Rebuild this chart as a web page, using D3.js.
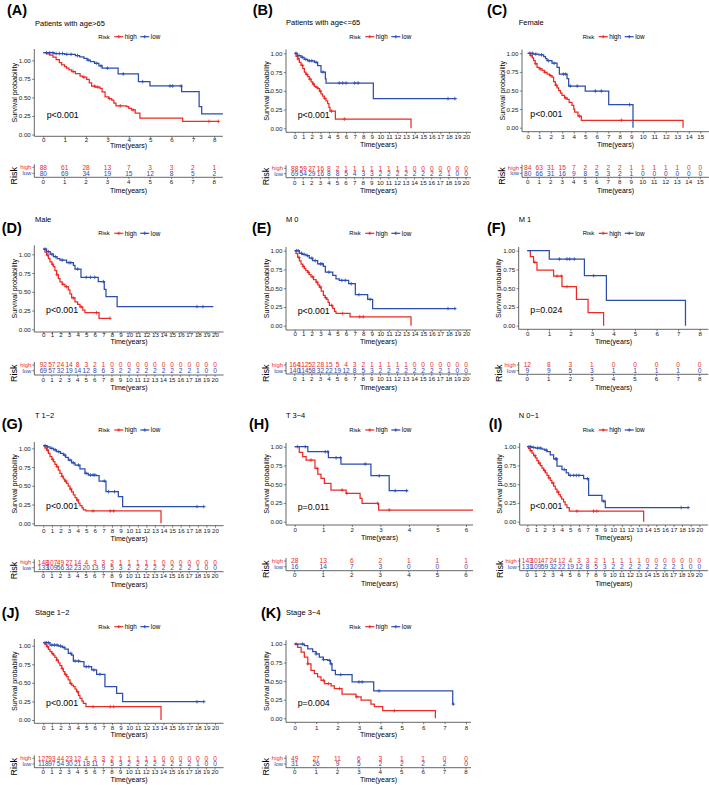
<!DOCTYPE html>
<html><head><meta charset="utf-8">
<script src="https://cdn.jsdelivr.net/npm/d3@7"></script>
<style>body{margin:0;background:#fff}svg{display:block}</style>
</head><body>
<svg id="chart" width="709" height="785"></svg>
<script>
// ---------------- DATA ----------------
const panelIds = ["A","B","C","D","E","F","G","H","I","J","K"];
const panelTitles = ["Patients with age>65","Patients with age<=65","Female","Male","M 0","M 1","T 1\u22122","T 3\u22124","N 0\u22121","Stage 1\u22122","Stage 3\u22124"];
const pValues = ["p<0.001","p<0.001","p<0.001","p<0.001","p<0.001","p=0.024","p<0.001","p=0.011","p<0.001","p<0.001","p=0.004"];
const maxTimes = [8,20,15,20,20,8,20,6,20,20,8];
const strata = ["high","low"];
const legendTitle = "Risk";
const yTickValues = [0,0.25,0.5,0.75,1];
const yTickLabels = ["0.00","0.25","0.50","0.75","1.00"];
const xTitle = "Time(years)";
const yTitle = "Survival probability";

// Kaplan-Meier steps: [time, survival from that time]
const highA = [[0,1],[0.15,0.985],[0.3,0.97],[0.45,0.945],[0.6,0.915],[0.75,0.88],[0.86,0.85],[1.0,0.83],[1.09,0.81],[1.2,0.79],[1.33,0.77],[1.5,0.745],[1.72,0.715],[1.85,0.7],[2.03,0.675],[2.15,0.63],[2.26,0.59],[2.45,0.58],[2.65,0.565],[2.75,0.52],[2.89,0.46],[3.05,0.44],[3.2,0.42],[3.3,0.385],[3.4,0.35],[3.9,0.34],[4.0,0.32],[4.13,0.30],[4.3,0.26],[4.52,0.20],[6.52,0.16],[8.19,0.16]];
const lowA = [[0,1],[0.5,0.99],[1.0,0.98],[1.5,0.965],[1.7,0.95],[1.9,0.93],[2.05,0.91],[2.2,0.89],[2.4,0.87],[2.6,0.84],[2.75,0.81],[3.5,0.74],[4.45,0.646],[4.99,0.593],[6.47,0.524],[7.29,0.341],[7.41,0.252],[8.45,0.252]];
const censHighA = [1.4,1.9,2.4,2.55,3.1,3.6,4.2,7.75,8.19];
const censLowA = [0.15,0.3,0.45,0.6,0.75,0.9,1.1,1.3,1.6,2.1,2.5,2.7,3.0,3.74,4.65,5.93,6.05,6.45];
const riskHighA = [88,61,28,13,7,3,3,2,1];
const riskLowA = [80,69,34,19,15,12,8,5,2];

const highB = [[0,1],[0.15,0.96],[0.35,0.925],[0.55,0.88],[0.74,0.84],[0.95,0.795],[1.13,0.75],[1.3,0.72],[1.52,0.69],[1.7,0.655],[1.91,0.62],[2.1,0.59],[2.3,0.56],[2.5,0.545],[2.68,0.53],[2.9,0.495],[3.07,0.46],[3.25,0.43],[3.46,0.40],[3.65,0.365],[3.85,0.33],[4.0,0.28],[4.12,0.23],[4.75,0.123],[13.58,0]];
const lowB = [[0,1],[0.3,0.97],[0.74,0.947],[1.1,0.92],[1.52,0.90],[2.3,0.88],[2.68,0.837],[3.07,0.75],[3.58,0.66],[3.66,0.604],[9.18,0.396],[18.9,0.396]];
const censHighB = [0.4,0.9,1.4,1.8,2.2,2.6,3.0,3.5,4.3,5.8];
const censLowB = [0.15,0.5,0.9,1.3,1.7,2.0,2.5,3.3,5.2,5.6,6.0,7.0,7.4,17.9,18.7];
const riskHighB = [88,59,27,16,8,2,1,1,1,1,1,1,1,1,0,0,0,0,0,0,0];
const riskLowB = [69,54,29,16,8,8,5,4,3,3,2,2,2,2,2,2,2,2,1,0,0];

const highC = [[0,1],[0.23,0.97],[0.4,0.94],[0.52,0.90],[0.65,0.86],[0.81,0.81],[1.0,0.79],[1.25,0.77],[1.45,0.745],[1.68,0.72],[1.9,0.70],[2.11,0.68],[2.25,0.62],[2.4,0.57],[2.55,0.535],[2.69,0.50],[2.85,0.465],[2.98,0.435],[3.2,0.40],[3.42,0.38],[3.6,0.34],[3.85,0.30],[4.0,0.25],[4.08,0.21],[4.37,0.155],[4.66,0.10],[13.5,0]];
const lowC = [[0,1],[0.5,0.99],[0.96,0.98],[1.39,0.956],[1.55,0.93],[1.68,0.90],[2.11,0.867],[2.55,0.81],[2.75,0.72],[3.42,0.66],[3.56,0.56],[5.0,0.493],[7.04,0.31],[9.15,0]];
const censHighC = [0.3,0.7,1.1,1.5,2.0,2.5,3.3,4.5,8.14];
const censLowC = [0.2,0.4,0.7,1.2,1.8,2.3,3.1,3.3,3.7,4.3,5.88,6.4,8.86];
const riskHighC = [84,63,31,15,7,2,2,2,2,1,1,1,1,1,0,0];
const riskLowC = [80,66,31,16,9,8,5,3,2,1,0,0,0,0,0,0];

const highD = [[0,1],[0.2,0.96],[0.39,0.925],[0.6,0.88],[0.78,0.84],[1.0,0.81],[1.17,0.78],[1.35,0.73],[1.55,0.68],[1.75,0.63],[1.94,0.59],[2.2,0.56],[2.52,0.53],[2.91,0.49],[3.1,0.44],[3.3,0.39],[3.69,0.34],[4.0,0.31],[4.27,0.28],[4.6,0.24],[4.85,0.207],[6.49,0.137],[7.77,0.137]];
const lowD = [[0,1],[0.39,0.967],[0.8,0.935],[1.17,0.905],[1.6,0.88],[1.94,0.863],[2.72,0.83],[3.5,0.797],[3.69,0.75],[4.39,0.647],[6.4,0.593],[7.1,0.498],[7.3,0.407],[8.6,0.282],[19.8,0.282]];
const censHighD = [0.5,1.1,1.6,2.3,2.7,3.5,4.4,6.2,7.77];
const censLowD = [0.2,0.6,1.0,1.4,2.2,3.0,3.2,4.0,5.0,5.5,6.0,7.0,17.9,18.6];
const riskHighD = [92,57,24,14,8,3,2,1,0,0,0,0,0,0,0,0,0,0,0,0,0];
const riskLowD = [69,57,32,19,14,12,8,6,3,2,2,2,2,2,2,2,2,2,1,0,0];

const highE = [[0,1],[0.15,0.96],[0.35,0.91],[0.55,0.865],[0.74,0.82],[0.95,0.79],[1.13,0.76],[1.3,0.735],[1.52,0.71],[1.7,0.68],[1.91,0.65],[2.2,0.615],[2.49,0.58],[2.7,0.545],[2.88,0.515],[3.1,0.46],[3.35,0.405],[3.55,0.375],[3.74,0.35],[3.9,0.31],[4.05,0.27],[4.44,0.23],[4.65,0.19],[4.82,0.163],[6.46,0.119],[13.58,0]];
const lowE = [[0,1],[0.54,0.965],[0.9,0.95],[1.32,0.934],[1.7,0.9],[2.1,0.868],[2.68,0.824],[3.35,0.79],[3.58,0.714],[4.44,0.67],[4.82,0.626],[5.2,0.604],[6.3,0.56],[7.08,0.414],[8.52,0.352],[9.1,0.229],[18.8,0.229]];
const censHighE = [0.5,1.0,1.6,2.1,2.6,3.0,3.6,4.3,5.6,7.6,8.0];
const censLowE = [0.2,0.4,0.8,1.1,1.5,2.0,2.4,3.0,3.2,4.0,5.5,5.9,6.6,7.5,8.8,17.9,18.7];
const riskHighE = [164,112,52,28,15,5,4,3,2,1,1,1,1,1,0,0,0,0,0,0,0];
const riskLowE = [140,114,58,32,22,19,12,8,5,3,2,2,2,2,2,2,2,2,1,0,0];

const highF = [[0,1],[0.14,0.92],[0.29,0.845],[0.45,0.742],[1.22,0.662],[1.61,0.52],[2.28,0.351],[2.82,0.173],[3.54,0]];
const lowF = [[0,1],[1.02,0.889],[2.65,0.667],[3.67,0.338],[7.34,0]];
const censHighF = [0.35,1.38,1.58,1.84];
const censLowF = [1.49,1.84,1.97,2.18,3.08];
const riskHighF = [12,8,3,1,0,0,0,0,0];
const riskLowF = [9,9,5,3,1,1,1,1,0];

const highG = [[0,1],[0.2,0.97],[0.39,0.944],[0.6,0.9],[0.78,0.858],[1.0,0.825],[1.17,0.794],[1.35,0.76],[1.55,0.73],[1.75,0.685],[1.94,0.644],[2.15,0.605],[2.33,0.571],[2.5,0.545],[2.72,0.515],[2.9,0.48],[3.11,0.442],[3.3,0.405],[3.5,0.365],[3.7,0.33],[3.88,0.30],[4.1,0.26],[4.27,0.227],[4.5,0.2],[4.66,0.172],[4.97,0.159],[13.71,0]];
const lowG = [[0,1],[0.4,0.985],[0.78,0.966],[1.2,0.945],[1.55,0.923],[2.0,0.9],[2.33,0.88],[2.6,0.85],[2.91,0.815],[3.3,0.78],[3.69,0.75],[4.27,0.70],[4.85,0.644],[5.24,0.622],[6.2,0.614],[6.5,0.545],[7.3,0.408],[8.74,0.343],[9.24,0.215],[18.7,0.215]];
const censHighG = [0.5,1.1,1.6,2.2,2.6,3.2,4.0,5.8,7.8,8.2];
const censLowG = [0.2,0.5,1.0,1.4,1.8,2.5,3.1,3.5,4.1,5.0,5.5,5.8,6.0,7.1,7.6,8.3,17.9,18.7];
const riskHighG = [148,107,49,27,14,4,3,3,2,1,1,1,1,1,0,0,0,0,0,0,0];
const riskLowG = [133,109,56,32,23,20,13,9,5,3,2,2,2,2,2,2,2,2,1,0,0];

const highH = [[0,1],[0.16,0.924],[0.28,0.867],[0.4,0.822],[0.71,0.711],[0.81,0.636],[0.92,0.578],[1.04,0.511],[1.27,0.422],[1.8,0.378],[2.29,0.311],[2.36,0.244],[2.94,0.156],[6.25,0.156]];
const lowH = [[0,1],[0.46,0.933],[1.18,0.853],[1.62,0.769],[2.67,0.613],[3.31,0.413],[3.96,0.413]];
const censHighH = [0.1,0.57,0.78,1.66,1.83,2.9,3.31];
const censLowH = [0.37,1.07,1.16,1.45,1.6,2.47,2.96,3.52,3.92];
const riskHighH = [28,13,6,2,1,1,1];
const riskLowH = [16,14,7,3,0,0,0];

const highI = [[0,1],[0.15,0.975],[0.35,0.947],[0.55,0.915],[0.74,0.88],[0.95,0.85],[1.12,0.815],[1.3,0.78],[1.51,0.749],[1.7,0.715],[1.9,0.683],[2.1,0.65],[2.29,0.617],[2.5,0.585],[2.67,0.551],[2.85,0.515],[3.06,0.476],[3.25,0.435],[3.45,0.396],[3.65,0.36],[3.84,0.33],[4.0,0.3],[4.22,0.264],[4.4,0.225],[4.61,0.189],[4.88,0.141],[13.53,0]];
const lowI = [[0,1],[0.5,0.99],[0.93,0.982],[1.7,0.969],[2.0,0.955],[2.29,0.934],[2.67,0.89],[3.06,0.837],[3.45,0.74],[4.03,0.696],[4.53,0.652],[4.8,0.617],[6.55,0.573],[7.13,0.352],[8.68,0.273],[9.07,0.189],[18.76,0.189]];
const censHighI = [0.4,0.9,1.4,2.0,2.5,3.0,3.6,5.78,7.7,8.1];
const censLowI = [0.2,0.4,0.7,1.2,1.5,2.2,3.3,3.4,4.3,5.0,5.4,5.7,6.0,7.0,8.9,17.9,18.7];
const riskHighI = [143,101,47,24,12,4,3,3,2,1,1,1,1,1,0,0,0,0,0,0,0];
const riskLowI = [131,109,59,32,22,19,12,8,5,3,2,2,2,2,2,2,2,2,1,0,0];

const highJ = [[0,1],[0.2,0.975],[0.39,0.948],[0.6,0.915],[0.78,0.884],[1.0,0.86],[1.17,0.84],[1.35,0.81],[1.55,0.776],[1.75,0.74],[1.94,0.703],[2.15,0.665],[2.33,0.625],[2.5,0.59],[2.72,0.56],[2.9,0.52],[3.11,0.474],[3.3,0.45],[3.5,0.431],[3.7,0.4],[3.88,0.366],[4.1,0.32],[4.27,0.28],[4.5,0.245],[4.66,0.216],[4.97,0.172],[13.71,0]];
const lowJ = [[0,1],[0.78,0.97],[1.75,0.957],[2.2,0.94],[2.52,0.918],[2.91,0.862],[3.3,0.84],[3.5,0.763],[4.27,0.754],[4.74,0.69],[5.63,0.647],[6.21,0.591],[7.18,0.431],[8.54,0.345],[9.24,0.237],[18.7,0.237]];
const censHighJ = [0.5,1.1,1.6,2.2,2.6,3.2,4.0,5.8,7.8,8.2];
const censLowJ = [0.2,0.4,0.6,1.0,1.3,1.6,2.0,2.4,3.2,3.7,4.1,5.0,5.3,5.9,6.6,17.9,18.7];
const riskHighJ = [127,93,44,23,12,4,3,3,2,1,1,1,1,1,0,0,0,0,0,0,0];
const riskLowJ = [118,97,54,30,21,18,11,7,5,3,2,2,2,2,2,2,2,2,1,0,0];

const highK = [[0,1],[0.14,0.956],[0.3,0.889],[0.45,0.822],[0.61,0.733],[0.76,0.644],[0.92,0.6],[1.07,0.556],[1.23,0.511],[1.39,0.467],[1.7,0.436],[1.85,0.4],[2.21,0.324],[2.86,0.289],[3.1,0.244],[3.56,0.191],[3.72,0.156],[4.11,0.102],[6.57,0]];
const lowK = [[0,1],[0.45,0.978],[0.61,0.933],[0.84,0.898],[1.0,0.867],[1.15,0.822],[1.34,0.791],[1.54,0.778],[1.67,0.733],[1.74,0.644],[1.9,0.587],[2.68,0.489],[3.69,0.369],[7.38,0.191],[7.41,0.191]];
const censHighK = [0.06,0.61,1.34,1.57,2.1,2.9,4.65];
const censLowK = [0.37,1.0,1.34,1.62,1.7,2.15,3.0,3.15,3.94,7.41];
const riskHighK = [49,27,11,6,3,1,1,0,0];
const riskLowK = [31,26,9,5,2,2,2,2,0];

// ---------------- LAYOUT (pixel positions) ----------------
const layouts = [
 {lx:7,ly:14.5,tx:35,ty:23,gx:98.3,gy:36.7,ax:34.3,x0:43.3,x1:214.3,yl1:60.3,yl0:134.5,yc1:52.7,xa:136.3,xt:140,xtt:146,px:46.7,py:115,rh:167.3,rl:173.3,ra:177.3,rt:182,rtt:190.5,right:236},
 {lx:252.7,ly:14.5,tx:286,ty:22.7,gx:349.3,gy:36.7,ax:286,x0:294.7,x1:466,yl1:53.3,yl0:128.3,yc1:53.3,xa:132.3,xt:136.7,xtt:145,px:297.7,py:115,rh:168.3,rl:173.7,ra:177.7,rt:182.7,rtt:190.7,right:471},
 {lx:487,ly:14.5,tx:518.7,ty:22.7,gx:582.7,gy:36.7,ax:522,x0:527.7,x1:700.3,yl1:53.3,yl0:127.7,yc1:53.3,xa:131.7,xt:137,xtt:145,px:530.3,py:114,rh:167.7,rl:173.3,ra:177.3,rt:182.3,rtt:190.7,right:709},
 {lx:1.7,ly:232.5,tx:35,ty:219.3,gx:98.3,gy:233.3,ax:34.3,x0:43.3,x1:215,yl1:254.3,yl0:329.3,yc1:249,xa:332,xt:335,xtt:341.7,px:46,py:310,rh:365,rl:370.7,ra:375,rt:380,rtt:387.3,right:236},
 {lx:252,ly:232.5,tx:286,ty:219.3,gx:349.3,gy:233.3,ax:286,x0:294.7,x1:466,yl1:250.7,yl0:325.7,yc1:250.7,xa:330,xt:334,xtt:341.7,px:297.7,py:311,rh:365,rl:370.7,ra:374,rt:379,rtt:387.3,right:471},
 {lx:487,ly:232.5,tx:518.7,ty:219.3,gx:582.7,gy:233.3,ax:518.7,x0:527.3,x1:699.7,yl1:250.7,yl0:325.7,yc1:250.7,xa:329.3,xt:334.3,xtt:341.7,px:530.3,py:310,rh:365,rl:370.7,ra:374.3,rt:379.3,rtt:387.3,right:709},
 {lx:1.7,ly:429,tx:35,ty:415,gx:98.3,gy:430,ax:34.3,x0:43.3,x1:215,yl1:448.3,yl0:523.3,yc1:445.7,xa:525.7,xt:531,xtt:538.3,px:46,py:506,rh:562.3,rl:567.7,ra:571.7,rt:576,rtt:584.3,right:236},
 {lx:249,ly:429,tx:286,ty:415,gx:349.3,gy:430,ax:286,x0:294.7,x1:466,yl1:446.7,yl0:521.7,yc1:446.7,xa:525,xt:530,xtt:537.7,px:297.7,py:506.7,rh:561,rl:566.7,ra:570.7,rt:575.3,rtt:583.7,right:473},
 {lx:488.7,ly:429,tx:518.7,ty:415,gx:582.7,gy:430,ax:519.7,x0:527.3,x1:699.3,yl1:446.7,yl0:521.7,yc1:446.7,xa:525,xt:530,xtt:537.7,px:530.3,py:506,rh:561,rl:566.7,ra:570.7,rt:575.3,rtt:583.7,right:709},
 {lx:1.7,ly:617.5,tx:35,ty:612.3,gx:98.3,gy:626.7,ax:34.3,x0:43.3,x1:215,yl1:645.7,yl0:720,yc1:642.7,xa:723.3,xt:727.7,xtt:735,px:46,py:703.3,rh:758.3,rl:764,ra:767.7,rt:772.3,rtt:780,right:236},
 {lx:261,ly:617.5,tx:286,ty:612.3,gx:349.3,gy:626.7,ax:286,x0:294.7,x1:466,yl1:644,yl0:718.3,yc1:644,xa:722.3,xt:727.7,xtt:735,px:297.7,py:703.3,rh:758.3,rl:764,ra:767.7,rt:772.3,rtt:780,right:471}
];

const curvesHigh = [highA,highB,highC,highD,highE,highF,highG,highH,highI,highJ,highK];
const curvesLow = [lowA,lowB,lowC,lowD,lowE,lowF,lowG,lowH,lowI,lowJ,lowK];
const censHigh = [censHighA,censHighB,censHighC,censHighD,censHighE,censHighF,censHighG,censHighH,censHighI,censHighJ,censHighK];
const censLow = [censLowA,censLowB,censLowC,censLowD,censLowE,censLowF,censLowG,censLowH,censLowI,censLowJ,censLowK];
const risksHigh = [riskHighA,riskHighB,riskHighC,riskHighD,riskHighE,riskHighF,riskHighG,riskHighH,riskHighI,riskHighJ,riskHighK];
const risksLow = [riskLowA,riskLowB,riskLowC,riskLowD,riskLowE,riskLowF,riskLowG,riskLowH,riskLowI,riskLowJ,riskLowK];

const color = d3.scaleOrdinal().domain(strata).range(["#EC2A25","#2B4DAE"]);
const FONT = "'Liberation Sans', Arial, Helvetica, sans-serif";
const svg = d3.select("#chart").style("font-family", FONT);

function stepAt(curve, t){
  let s = curve[0][1];
  for (const p of curve){ if (p[0] <= t) s = p[1]; else break; }
  return s;
}

panelIds.forEach((id, i) => {
  const L = layouts[i];
  const tmax = maxTimes[i];
  const g = svg.append("g");
  const x = d3.scaleLinear().domain([0, tmax]).range([L.x0, L.x1]);
  const yAx = d3.scaleLinear().domain([0, 1]).range([L.yl0, L.yl1]);
  const yCv = d3.scaleLinear().domain([0, 1]).range([L.yl0, L.yc1]);
  const axR = Math.min(L.x1 + 0.05 * (L.x1 - L.x0), L.right);
  const ticks = d3.range(0, tmax + 1);
  const topY = Math.min(L.yc1, L.yl1) - 3.7;

  // panel label and title
  g.append("text").attr("x", L.lx).attr("y", L.ly).attr("font-size", 14.5).attr("font-weight", "bold").text("(" + id + ")");
  g.append("text").attr("x", L.tx).attr("y", L.ty).attr("dy", "0.35em").attr("font-size", 7.5).text(panelTitles[i]);

  // legend
  const lg = g.append("g").attr("transform", `translate(${L.gx},${L.gy})`);
  lg.append("text").attr("x", 0).attr("dy", "0.35em").attr("font-size", 5.9).text(legendTitle);
  const legOff = [16, 42];
  strata.forEach((s, k) => {
    const ox = legOff[k];
    lg.append("line").attr("x1", ox).attr("x2", ox + 9).attr("stroke", color(s)).attr("stroke-width", 1.2);
    lg.append("path").attr("d", `M${ox+2.8},0h3.4M${ox+4.5},-1.7v3.4`).attr("stroke", color(s)).attr("stroke-width", 0.9);
    lg.append("text").attr("x", ox + 10.5).attr("dy", "0.35em").attr("font-size", 6.3).text(s);
  });

  // y axis
  const yAxis = d3.axisLeft(yAx).tickValues(yTickValues).tickFormat((d, k) => yTickLabels[k]).tickSize(2.2).tickPadding(1.3);
  const ya = g.append("g").attr("transform", `translate(${L.ax},0)`).call(yAxis);
  ya.select(".domain").remove();
  ya.selectAll("line").attr("stroke", "#333").attr("stroke-width", 0.6);
  ya.selectAll("text").attr("font-size", 6.2).attr("fill", "#222").attr("font-family", FONT);
  g.append("line").attr("x1", L.ax).attr("x2", L.ax).attr("y1", topY).attr("y2", L.xa).attr("stroke", "#333").attr("stroke-width", 0.75);

  // x axis
  const xAxis = d3.axisBottom(x).tickValues(ticks).tickFormat(d3.format("d")).tickSize(2);
  const xa = g.append("g").attr("transform", `translate(0,${L.xa})`).call(xAxis);
  xa.select(".domain").remove();
  xa.selectAll("line").attr("stroke", "#333").attr("stroke-width", 0.6);
  xa.selectAll("text").attr("y", L.xt - L.xa).attr("dy", "0.35em").attr("font-size", 6.2).attr("fill", "#222").attr("font-family", FONT);
  g.append("line").attr("x1", L.ax).attr("x2", axR).attr("y1", L.xa).attr("y2", L.xa).attr("stroke", "#333").attr("stroke-width", 0.75);

  // axis titles
  g.append("text").attr("x", (L.ax + axR) / 2).attr("y", L.xtt).attr("dy", "0.35em").attr("text-anchor", "middle").attr("font-size", 7).text(xTitle);
  g.append("text").attr("transform", `translate(${L.ax - 20},${(topY + L.xa) / 2}) rotate(-90)`).attr("dy", "0.35em").attr("text-anchor", "middle").attr("font-size", 7.1).text(yTitle);

  // curves
  const clipId = "clip" + id;
  g.append("clipPath").attr("id", clipId).append("rect").attr("x", L.ax).attr("y", topY - 3).attr("width", axR - L.ax).attr("height", L.xa - topY + 3);
  const line = d3.line().x(d => x(d[0])).y(d => yCv(d[1])).curve(d3.curveStepAfter);
  const cg = g.append("g").attr("clip-path", `url(#${clipId})`);
  const sets = [[curvesHigh[i], censHigh[i], "high"], [curvesLow[i], censLow[i], "low"]];
  sets.forEach(([cv, cs, s]) => {
    cg.append("path").datum(cv).attr("d", line).attr("fill", "none").attr("stroke", color(s)).attr("stroke-width", 1.25);
    cg.selectAll(null).data(cs).enter().append("path")
      .attr("d", t => { const px = x(t), py = yCv(stepAt(cv, t)); return `M${px-1.8},${py}h3.6M${px},${py-1.8}v3.6`; })
      .attr("stroke", color(s)).attr("stroke-width", 0.8).attr("fill", "none");
  });

  // p value
  g.append("text").attr("x", L.px).attr("y", L.py).attr("dy", "0.35em").attr("font-size", 8.8).text(pValues[i]);

  // risk table
  const yr = d3.scalePoint().domain(strata).range([L.rh, L.rl]);
  const rows = [[risksHigh[i], "high"], [risksLow[i], "low"]];
  rows.forEach(([vals, s]) => {
    g.selectAll(null).data(vals).enter().append("text")
      .attr("x", (v, k) => x(ticks[k])).attr("y", yr(s)).attr("dy", "0.35em")
      .attr("text-anchor", "middle").attr("font-size", 6.6).attr("fill", color(s)).text(v => v);
    g.append("line").attr("x1", L.ax - 2).attr("x2", L.ax).attr("y1", yr(s)).attr("y2", yr(s)).attr("stroke", "#333").attr("stroke-width", 0.6);
    g.append("text").attr("x", L.ax - 3).attr("y", yr(s)).attr("dy", "0.35em").attr("text-anchor", "end").attr("font-size", 5.9).attr("fill", color(s)).text(s);
  });
  g.append("line").attr("x1", L.ax).attr("x2", L.ax).attr("y1", L.rh - 3).attr("y2", L.ra).attr("stroke", "#333").attr("stroke-width", 0.75);
  g.append("line").attr("x1", L.ax).attr("x2", axR).attr("y1", L.ra).attr("y2", L.ra).attr("stroke", "#333").attr("stroke-width", 0.75);
  g.selectAll(null).data(ticks).enter().append("line")
    .attr("x1", d => x(d)).attr("x2", d => x(d)).attr("y1", L.ra).attr("y2", L.ra + 1.8).attr("stroke", "#333").attr("stroke-width", 0.6);
  g.selectAll(null).data(ticks).enter().append("text")
    .attr("x", d => x(d)).attr("y", L.rt).attr("dy", "0.35em").attr("text-anchor", "middle").attr("font-size", 6.2).attr("fill", "#222").text(d => d);
  g.append("text").attr("x", (L.ax + axR) / 2).attr("y", L.rtt).attr("dy", "0.35em").attr("text-anchor", "middle").attr("font-size", 7).text(xTitle);
  g.append("text").attr("transform", `translate(${L.ax - 20},${(L.rh + L.rl) / 2 + 5.5}) rotate(-90)`).attr("dy", "0.35em").attr("text-anchor", "middle").attr("font-size", 9).text(legendTitle);
});
</script>
</body></html>
